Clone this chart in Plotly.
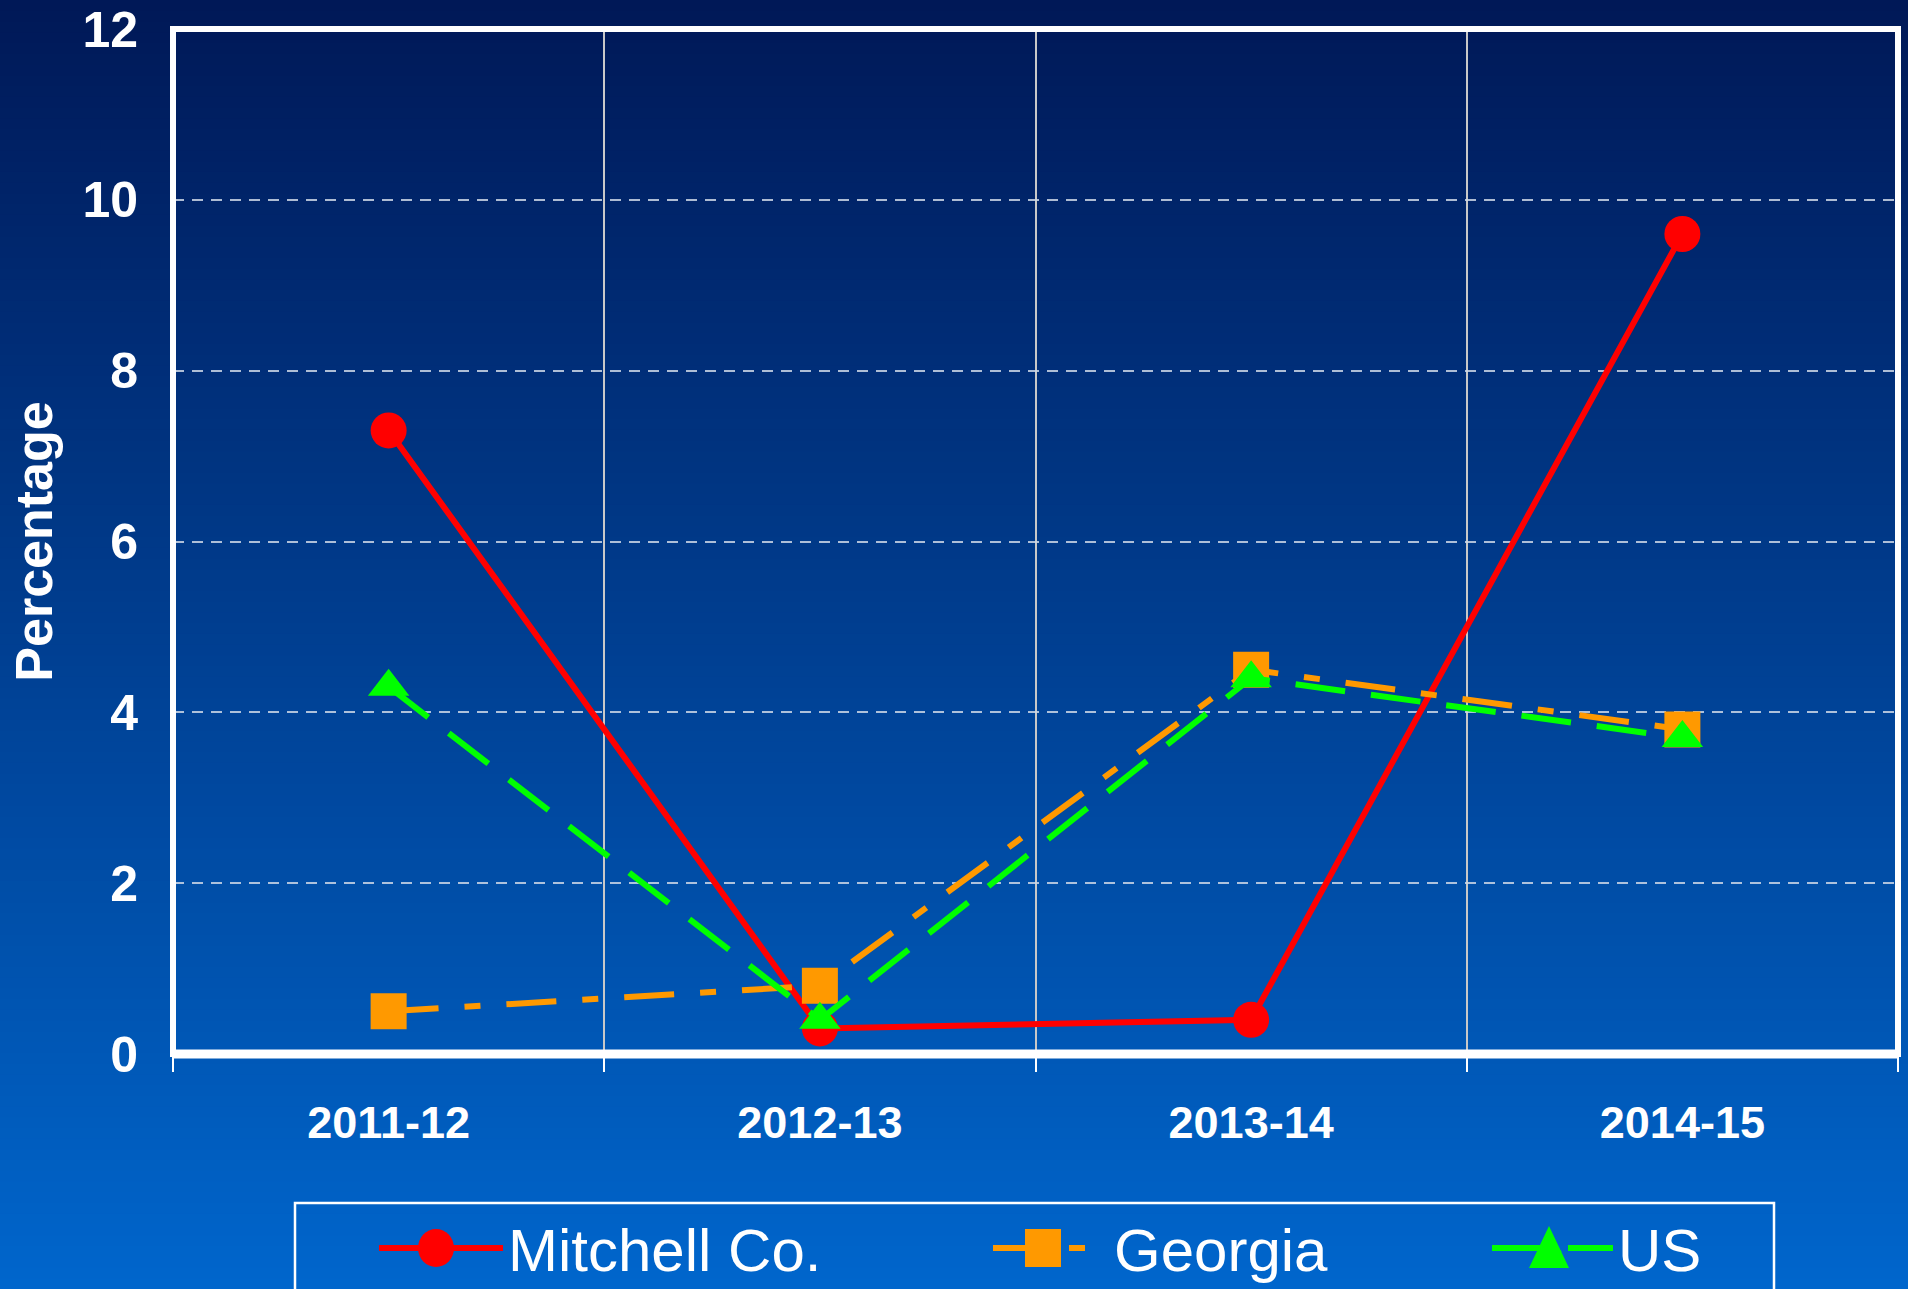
import plotly.graph_objects as go

# ---------------- data ----------------
categories = ["2011-12", "2012-13", "2013-14", "2014-15"]
mitchell = [7.3, 0.3, 0.4, 9.6]
georgia = [0.5, 0.8, 4.5, 3.8]
us = [4.3, 0.4, 4.4, 3.7]
y_ticks = [0, 2, 4, 6, 8, 10, 12]
series_names = ["Mitchell Co.", "Georgia", "US"]

# ---------------- layout constants ----------------
W, H = 1908, 1289
ML, MR, MT, MB = 173, 10, 29, 235
PW = W - ML - MR
PH = H - MT - MB

def px_x(p):
    return (p - ML) / PW

def px_y(p):
    return (H - MB - p) / PH

BOLD = "Liberation Sans, Arial, sans-serif"
REG = "Liberation Sans, Arial, sans-serif"

colors = ["#FF0000", "#FF9900", "#00FF00"]

fig = go.Figure()

fig.add_trace(go.Scatter(
    x=categories, y=mitchell, name=series_names[0], mode="lines+markers",
    line=dict(color=colors[0], width=6),
    marker=dict(symbol="circle", size=36, color=colors[0]),
    legend="legend",
))
fig.add_trace(go.Scatter(
    x=categories, y=georgia, name=series_names[1], mode="lines+markers",
    line=dict(color=colors[1], width=6, dash="50px,26px,16px,26px"),
    marker=dict(symbol="square", size=36, color=colors[1]),
    legend="legend2",
))
fig.add_trace(go.Scatter(
    x=categories, y=us, name=series_names[2], mode="lines+markers",
    line=dict(color=colors[2], width=6, dash="50px,26px"),
    marker=dict(symbol="triangle-up", size=36, color=colors[2]),
    legend="legend3",
))

# gradient background as horizontal bands
shapes = []
top_c = (0, 24, 87)
bot_c = (0, 102, 204)
N = 120
for i in range(N):
    p0 = H * i / N
    p1 = H * (i + 1) / N + 1
    t = (i + 0.5) / N
    c = tuple(round(top_c[k] + (bot_c[k] - top_c[k]) * t) for k in range(3))
    shapes.append(dict(
        type="rect", xref="paper", yref="paper", layer="below",
        x0=-0.2, x1=1.2, y0=px_y(p1), y1=px_y(p0),
        line=dict(width=0), fillcolor="rgb(%d,%d,%d)" % c,
    ))

# plot frame (centred on the plot edges) and thicker bottom axis line
shapes.append(dict(type="rect", xref="paper", yref="paper", layer="above",
                   x0=0, x1=1, y0=0, y1=1,
                   line=dict(color="white", width=6), fillcolor="rgba(0,0,0,0)"))
shapes.append(dict(type="line", xref="paper", yref="paper", layer="above",
                   x0=0, x1=1, y0=0, y1=0, line=dict(color="white", width=9)))

# legend frame
shapes.append(dict(
    type="rect", xref="paper", yref="paper", layer="above",
    x0=px_x(295), x1=px_x(1774), y0=px_y(1320), y1=px_y(1203),
    line=dict(color="white", width=2.5), fillcolor="rgba(0,0,0,0)",
))

# legend placement (pixel positions of each legend block)
LEG_Y = 1248
leg_x = [374, 988, 1487]
leg_w = [124, 116, 121]
marker_cx = [436, 1043, 1549]

# enlarged legend marker glyphs (plotly caps legend marker size)
for i, sym in enumerate(["circle", "square", "triangle"]):
    common = dict(xref="paper", yref="paper", xsizemode="pixel", ysizemode="pixel",
                  xanchor=px_x(marker_cx[i]), yanchor=px_y(LEG_Y), layer="above",
                  line=dict(width=0), fillcolor=colors[i])
    if sym == "circle":
        shapes.append(dict(common, type="circle", x0=-18, x1=18, y0=-19, y1=19))
    elif sym == "square":
        shapes.append(dict(common, type="rect", x0=-18, x1=18, y0=-19, y1=19))
    else:
        shapes.append(dict(common, type="path", path="M-20,-20 L20,-20 L0,22 Z"))

leg_common = dict(
    orientation="h", bgcolor="rgba(0,0,0,0)", borderwidth=0,
    font=dict(family=REG, size=60, color="white"),
    xanchor="left", yanchor="middle", y=px_y(LEG_Y),
)

fig.update_layout(
    width=W, height=H,
    margin=dict(l=ML, r=MR, t=MT, b=MB, autoexpand=False),
    paper_bgcolor="rgb(0,102,204)",
    plot_bgcolor="rgba(0,0,0,0)",
    shapes=shapes,
    showlegend=True,
    legend=dict(leg_common, x=px_x(leg_x[0]), itemwidth=leg_w[0]),
    legend2=dict(leg_common, x=px_x(leg_x[1]), itemwidth=leg_w[1]),
    legend3=dict(leg_common, x=px_x(leg_x[2]), itemwidth=leg_w[2]),
    xaxis=dict(
        type="category", range=[-0.5, 3.5],
        showgrid=True, gridcolor="#c8c8c8", gridwidth=2,
        tickson="boundaries", ticks="outside", ticklen=17, tickwidth=2, tickcolor="white",
        showline=False,
        tickfont=dict(family=BOLD, size=45, color="white", weight="bold"),
        ticklabelstandoff=38,
    ),
    yaxis=dict(
        range=[0, 12], tickmode="array", tickvals=y_ticks,
        showgrid=True, gridcolor="rgba(205,215,230,0.85)", gridwidth=1.5, griddash="11px,8px",
        zeroline=False, ticks="", showline=False,
        tickfont=dict(family=BOLD, size=50, color="white", weight="bold"),
        ticklabelstandoff=34,
        title=dict(text="Percentage", font=dict(family=BOLD, size=52, color="white", weight="bold"), standoff=13),
    ),
)

fig.write_html("out.html", config={"displayModeBar": False},
               post_script="document.body.style.margin='0';")
